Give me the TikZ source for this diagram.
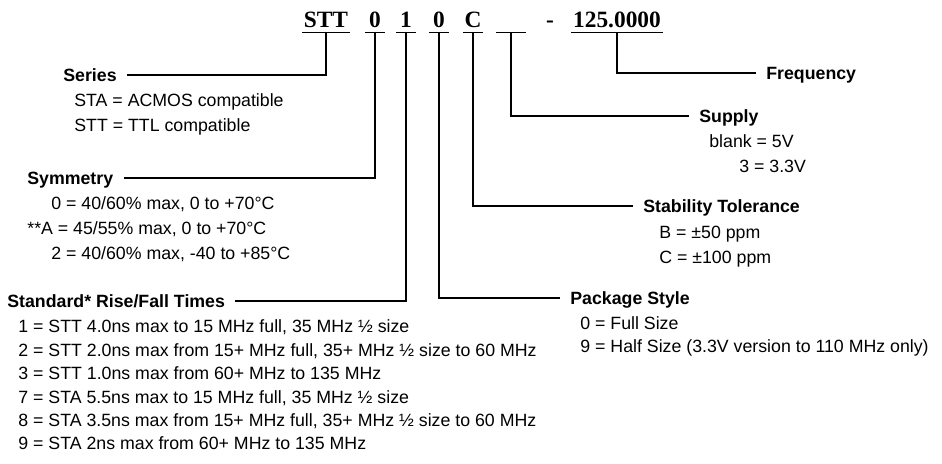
\documentclass[tikz,border=0pt]{standalone}
\usepackage{fontspec}
\setmainfont{Liberation Sans}
\newfontfamily\codefont{Liberation Serif}
\usetikzlibrary{positioning}

\begin{document}
\begin{tikzpicture}[x=0.02cm,y=-0.02cm,
  every node/.style={inner sep=0pt},
  code/.style={font=\codefont\bfseries\fontsize{13.3}{16}\selectfont,anchor=base,text depth=0pt,inner xsep=0.03cm,inner ysep=0.08cm},
  digit/.style={code,minimum width=0.38cm},
  hdr/.style={font=\bfseries\fontsize{10.1}{12}\selectfont,anchor=west,text height=0.26cm,text depth=0pt,inner xsep=0.2cm},
  item/.style={font=\fontsize{10.1}{12}\selectfont,anchor=west,text height=0.26cm,text depth=0pt},
  lead/.style={line width=0.75pt}]
  \useasboundingbox (0,0) rectangle (942,463);

  % part number
  \node[code] (cSeries) at (326,28) {STT};
  \node[digit] (cSym) at (375,28) {0};
  \node[digit] (cRise) at (406,28) {1};
  \node[digit] (cPkg) at (439,28) {0};
  \node[code] (cStab) at (473,28) {C};
  \node[code,minimum width=0.58cm] (cSupply) at (511,28) {};
  \node[code] (cDash) at (550,28) {-};
  \node[code] (cFreq) at (617,28) {125.0000};
  \foreach \n in {cSeries,cSym,cRise,cPkg,cStab,cSupply,cFreq}
    \draw[lead] (\n.south west) -- (\n.south east);

  % left side
  \node[hdr] (hSeries) at (53,75) {Series};
  \node[item] (iSeries1) at (74,100) {STA = ACMOS compatible};
  \node[item] (iSeries2) at (74,125) {STT = TTL compatible};

  \node[hdr] (hSym) at (17,178) {Symmetry};
  \node[item] (iSym1) at (51,203) {0 = 40/60\% max, 0 to +70°C};
  \node[item] (iSym2) at (27,228) {**A = 45/55\% max, 0 to +70°C};
  \node[item] (iSym3) at (51,253) {2 = 40/60\% max, -40 to +85°C};

  \node[hdr] (hRise) at (-3,301) {Standard* Rise/Fall Times};
  \foreach \y/\t in {326/{1 = STT 4.0ns max to 15 MHz full, 35 MHz ½ size},
                     350/{2 = STT 2.0ns max from 15+ MHz full, 35+ MHz ½ size to 60 MHz},
                     373/{3 = STT 1.0ns max from 60+ MHz to 135 MHz},
                     397/{7 = STA 5.5ns max to 15 MHz full, 35 MHz ½ size},
                     420/{8 = STA 3.5ns max from 15+ MHz full, 35+ MHz ½ size to 60 MHz},
                     443/{9 = STA 2ns max from 60+ MHz to 135 MHz}}
    \node[item] (iRise\y) at (18,\y) {\t};

  % right side
  \node[hdr] (hFreq) at (756,73) {Frequency};

  \node[hdr] (hSupply) at (689,116) {Supply};
  \node[item] (iSupply1) at (709,141) {blank = 5V};
  \node[item] (iSupply2) at (739,166) {3 = 3.3V};

  \node[hdr] (hStab) at (633,206) {Stability Tolerance};
  \node[item] (iStab1) at (659,232) {B = ±50 ppm};
  \node[item] (iStab2) at (659,257) {C = ±100 ppm};

  \node[hdr] (hPkg) at (560,298) {Package Style};
  \node[item] (iPkg1) at (580,323) {0 = Full Size};
  \node[item] (iPkg2) at (580,346) {9 = Half Size (3.3V version to 110 MHz only)};

  % leaders
  \draw[lead] (cSeries.south) |- (hSeries.east);
  \draw[lead] (cSym.south) |- (hSym.east);
  \draw[lead] (cRise.south) |- (hRise.east);
  \draw[lead] (cPkg.south) |- (hPkg.west);
  \draw[lead] (cStab.south) |- (hStab.west);
  \draw[lead] (cSupply.south) |- (hSupply.west);
  \draw[lead] (cFreq.south) |- (hFreq.west);
\end{tikzpicture}
\end{document}
